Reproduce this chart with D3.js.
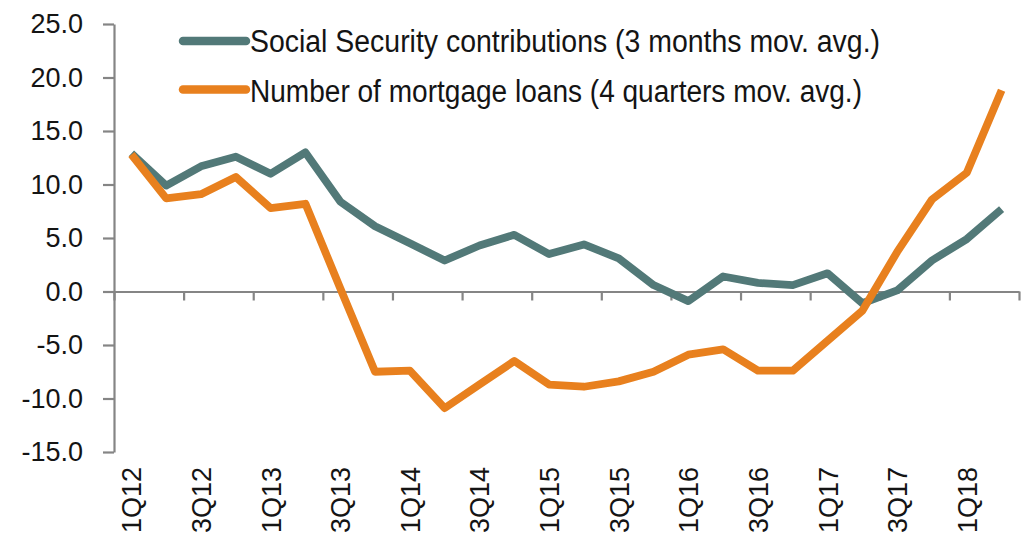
<!DOCTYPE html>
<html>
<head>
<meta charset="utf-8">
<script src="https://cdn.jsdelivr.net/npm/d3@7"></script>
<style>
  body { margin: 0; background: #ffffff; }
  svg { display: block; }
  text { font-family: "Liberation Sans", Arial, sans-serif; fill: #141414; }
</style>
</head>
<body>
<svg id="chart" width="1028" height="536"></svg>
<script>
// Quarterly categories, 1Q12 .. 2Q18
const quarters = [
  "1Q12", "2Q12", "3Q12", "4Q12",
  "1Q13", "2Q13", "3Q13", "4Q13",
  "1Q14", "2Q14", "3Q14", "4Q14",
  "1Q15", "2Q15", "3Q15", "4Q15",
  "1Q16", "2Q16", "3Q16", "4Q16",
  "1Q17", "2Q17", "3Q17", "4Q17",
  "1Q18", "2Q18"
];

// Social Security contributions, y/y % (3 months moving average)
const socialSecurity = [
  12.9, 9.9, 11.7, 12.6,
  11.0, 13.0, 8.4, 6.1,
  4.5, 2.9, 4.3, 5.3,
  3.5, 4.4, 3.1, 0.6,
  -0.9, 1.4, 0.8, 0.6,
  1.7, -1.1, 0.1, 2.9,
  4.9, 7.7
];

// Number of mortgage loans, y/y % (4 quarters moving average)
const mortgageLoans = [
  12.8, 8.7, 9.1, 10.7,
  7.8, 8.2, 0.3, -7.5,
  -7.4, -10.9, -8.7, -6.5,
  -8.7, -8.9, -8.4, -7.5,
  -5.9, -5.4, -7.4, -7.4,
  -4.6, -1.8, 3.7, 8.6,
  11.1, 18.8
];

const yTicks = [-15, -10, -5, 0, 5, 10, 15, 20, 25];
const xLabelQuarters = quarters.filter((q, i) => i % 2 === 0);

const seriesNames = [
  "Social Security contributions (3 months mov. avg.)",
  "Number of mortgage loans (4 quarters mov. avg.)"
];
const seriesColors = ["#527978", "#e8801e"];

const svg = d3.select("#chart");

const plot = { left: 114, right: 1019, top: 24, bottom: 452 };

const y = d3.scaleLinear().domain([-15, 25]).range([plot.bottom, plot.top]);
const x = d3.scaleBand().domain(quarters).range([plot.left, plot.right]).padding(0);
const xEdge = d3.scaleLinear().domain([0, quarters.length]).range([plot.left, plot.right]);
const cx = q => x(q) + x.bandwidth() / 2;

const axisColor = "#858585";

// Y axis
const yAxis = svg.append("g")
  .attr("transform", `translate(${plot.left},0)`)
  .call(d3.axisLeft(y)
    .tickValues(yTicks)
    .tickFormat(d => d.toFixed(1))
    .tickSize(11)
    .tickSizeOuter(0)
    .tickPadding(20));
yAxis.select(".domain").attr("stroke", axisColor).attr("stroke-width", 2.2);
yAxis.selectAll(".tick line").attr("stroke", axisColor).attr("stroke-width", 2.2);
yAxis.selectAll(".tick text")
  .attr("font-size", 27)
  .attr("fill", "#141414")
  .style("font-family", '"Liberation Sans", Arial, sans-serif');

// X axis along zero, with ticks between every second quarter
const xAxis = svg.append("g")
  .attr("transform", `translate(0,${y(0)})`)
  .call(d3.axisBottom(xEdge)
    .tickValues(d3.range(0, quarters.length + 1, 2))
    .tickFormat("")
    .tickSize(9)
    .tickSizeOuter(0));
xAxis.select(".domain").attr("stroke", axisColor).attr("stroke-width", 2.2);
xAxis.selectAll(".tick line").attr("stroke", axisColor).attr("stroke-width", 2.2);

// Category labels at the bottom, rotated
svg.append("g")
  .selectAll("text")
  .data(xLabelQuarters)
  .join("text")
  .attr("transform", d => `translate(${cx(d) + 10},467) rotate(-90)`)
  .attr("text-anchor", "end")
  .attr("font-size", 27)
  .text(d => d);

// Lines
const line = d3.line()
  .x((d, i) => cx(quarters[i]))
  .y(d => y(d));

[socialSecurity, mortgageLoans].forEach((values, k) => {
  svg.append("path")
    .datum(values)
    .attr("fill", "none")
    .attr("stroke", seriesColors[k])
    .attr("stroke-width", 7.8)
    .attr("stroke-linejoin", "round")
    .attr("stroke-linecap", "butt")
    .attr("d", line);
});

// Legend
const legendRows = [
  { y: 41, baseline: 51.5, width: 630 },
  { y: 89.5, baseline: 101.5, width: 612 }
];
const legend = svg.append("g");
seriesNames.forEach((name, k) => {
  const r = legendRows[k];
  legend.append("line")
    .attr("x1", 183).attr("x2", 246)
    .attr("y1", r.y).attr("y2", r.y)
    .attr("stroke", seriesColors[k])
    .attr("stroke-width", 8.5)
    .attr("stroke-linecap", "round");
  legend.append("text")
    .attr("x", 250)
    .attr("y", r.baseline)
    .attr("font-size", 31)
    .attr("textLength", r.width)
    .attr("lengthAdjust", "spacingAndGlyphs")
    .text(name);
});
</script>
</body>
</html>
